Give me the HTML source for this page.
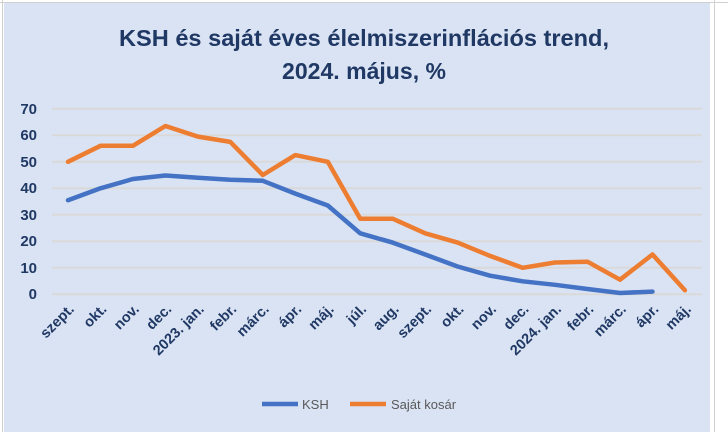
<!DOCTYPE html>
<html><head><meta charset="utf-8"><style>
body{margin:0;width:728px;height:432px;background:#fff;overflow:hidden}
</style></head><body>
<svg width="728" height="432" xmlns="http://www.w3.org/2000/svg" font-family="Liberation Sans, sans-serif">
<g stroke="#d0d0d0" stroke-width="1">
<line x1="0" y1="2.5" x2="728" y2="2.5"/>
<line x1="714.5" y1="0" x2="714.5" y2="432"/>
<line x1="2.5" y1="0" x2="2.5" y2="432"/>
</g>
<rect x="4" y="3" width="706" height="429" fill="#dae3f3"/>
<g fill="#1f3864" font-weight="bold" text-anchor="middle" font-size="23">
<text x="364" y="46" textLength="490" lengthAdjust="spacingAndGlyphs">KSH és saját éves élelmiszerinflációs trend,</text>
<text x="364" y="79" textLength="164" lengthAdjust="spacingAndGlyphs">2024. május, %</text>
</g>
<g stroke="#d9d9d9" stroke-width="2">
<line x1="52" x2="702" y1="108.7" y2="108.7"/><line x1="52" x2="702" y1="135.2" y2="135.2"/>
<line x1="52" x2="702" y1="161.7" y2="161.7"/><line x1="52" x2="702" y1="188.2" y2="188.2"/>
<line x1="52" x2="702" y1="214.8" y2="214.8"/><line x1="52" x2="702" y1="241.3" y2="241.3"/>
<line x1="52" x2="702" y1="267.8" y2="267.8"/><line x1="52" x2="702" y1="294.3" y2="294.3"/>
</g>
<g fill="#1f3864" font-weight="bold" font-size="15" text-anchor="end">
<text x="37" y="114">70</text><text x="37" y="140">60</text><text x="37" y="167">50</text><text x="37" y="193">40</text>
<text x="37" y="220">30</text><text x="37" y="246">20</text><text x="37" y="273">10</text><text x="37" y="299">0</text>
</g>
<g id="lines" fill="none" stroke-width="4.5" stroke-linejoin="round" stroke-linecap="round"></g>
<g id="labels" fill="#1f3864" font-weight="bold" font-size="14.5" text-anchor="end"></g>
<line x1="262" y1="404" x2="298" y2="404" stroke="#4472c4" stroke-width="4.5"/>
<text x="302" y="409" fill="#595959" font-size="13">KSH</text>
<line x1="350" y1="404" x2="386" y2="404" stroke="#ed7d31" stroke-width="4.5"/>
<text x="391" y="409" fill="#595959" font-size="13">Saját kosár</text>
</svg>
<script>
var ksh=[35.5,40,43.5,44.8,44,43.2,42.8,38,33.5,23,19.5,15,10.5,7,4.9,3.6,2,0.5,1];
var saj=[50,56,56,63.5,59.5,57.5,45,52.5,50,28.5,28.5,23,19.5,14.5,10,12,12.3,5.5,15,1.5];
var labs=["szept.","okt.","nov.","dec.","2023. jan.","febr.","márc.","ápr.","máj.","júl.","aug.","szept.","okt.","nov.","dec.","2024. jan.","febr.","márc.","ápr.","máj."];
function X(i){return 68+i*32.47} function Y(v){return 294.3-v*2.651}
function pts(a){return a.map(function(v,i){return X(i).toFixed(1)+","+Y(v).toFixed(1)}).join(" ")}
var g=document.getElementById("lines");
g.innerHTML='<polyline stroke="#4472c4" points="'+pts(ksh)+'"/><polyline stroke="#ed7d31" points="'+pts(saj)+'"/>';
var L=document.getElementById("labels"),h="";
labs.forEach(function(t,i){var x=X(i)+7,y=310;h+='<text transform="translate('+x+','+y+') rotate(-45)">'+t+'</text>'});
L.innerHTML=h;
</script>
</body></html>
